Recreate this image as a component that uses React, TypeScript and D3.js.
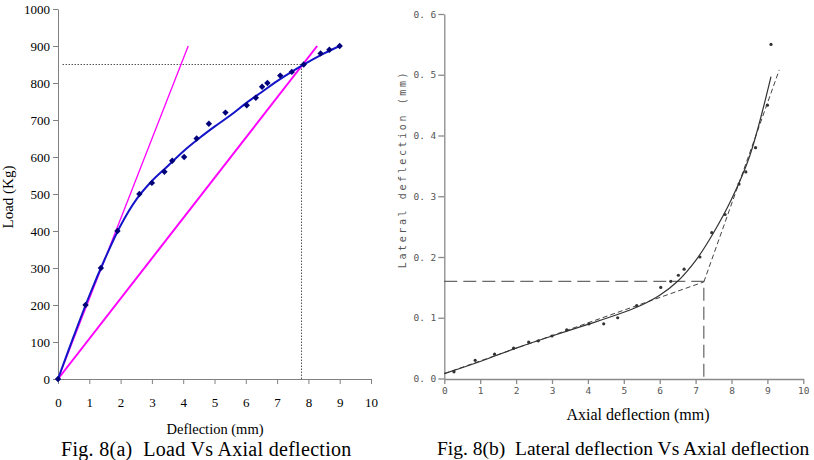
import React, { useEffect, useRef } from "react";
import * as d3 from "d3";

// Fig. 8(a) – measured load vs axial deflection
const loadDefl = [0, 0.88, 1.37, 1.9, 2.6, 3.0, 3.4, 3.65, 4.03, 4.43, 4.82, 5.35, 6.03, 6.32, 6.52, 6.69, 7.1, 7.47, 7.85, 8.39, 8.67, 9.0];
const loadKg = [0, 200, 300, 400, 500, 530, 560, 590, 600, 650, 690, 720, 740, 760, 790, 800, 820, 830, 850, 880, 890, 900];
// fitted trend line (blue)
const trendDefl = [0, 0.5, 1, 1.5, 2, 2.5, 3, 3.5, 4, 4.5, 5, 5.5, 6, 6.5, 7, 7.5, 8, 8.5, 9];
const trendLoad = [0, 115, 225, 325, 415, 485, 535, 575, 615, 650, 682, 712, 745, 775, 805, 832, 857, 880, 900];
// initial tangent and offset line (magenta)
const tangentDefl = [0, 4.16];
const tangentLoad = [0, 900];
const offsetDefl = [0, 8.28];
const offsetLoad = [0, 900];
const yieldLoad = 850;
const yieldDefl = 7.78;
const loadTicks = [0, 100, 200, 300, 400, 500, 600, 700, 800, 900, 1000];
const deflTicks = [0, 1, 2, 3, 4, 5, 6, 7, 8, 9, 10];

// Fig. 8(b) – lateral vs axial deflection
const axialPts = [0.27, 0.86, 1.4, 1.93, 2.35, 2.62, 3.0, 3.41, 4.03, 4.44, 4.83, 5.36, 6.03, 6.31, 6.52, 6.68, 7.12, 7.45, 7.82, 8.21, 8.4, 8.67, 9.0, 9.1];
const lateralPts = [0.011, 0.03, 0.04, 0.05, 0.06, 0.062, 0.07, 0.08, 0.09, 0.09, 0.1, 0.12, 0.15, 0.16, 0.17, 0.18, 0.2, 0.24, 0.27, 0.32, 0.34, 0.38, 0.45, 0.55];
const curveAxial = [0, 1, 2, 3, 4, 5, 5.5, 6, 6.5, 7, 7.5, 8, 8.5, 9.1];
const curveLateral = [0.008, 0.028, 0.05, 0.07, 0.089, 0.109, 0.121, 0.137, 0.16, 0.194, 0.24, 0.295, 0.365, 0.497];
const lowLineAxial = [0, 7.23];
const lowLineLateral = [0.008, 0.159];
const highLineAxial = [7.23, 9.33];
const highLineLateral = [0.159, 0.508];
const kneeAxial = 7.23;
const kneeLateral = 0.16;
const latTicks = [0, 0.1, 0.2, 0.3, 0.4, 0.5, 0.6];

const zip = (xs: number[], ys: number[]) => xs.map((x, i) => [x, ys[i]] as [number, number]);

export default function App() {
  const ref = useRef<SVGSVGElement>(null);

  useEffect(() => {
    const svg = d3.select(ref.current);
    svg.selectAll("*").remove();
    const serif = "'Liberation Serif', 'Times New Roman', serif";
    const mono = "'DejaVu Sans Mono', monospace";

    // ---------- left chart ----------
    const x = d3.scaleLinear().domain([0, 10]).range([58, 371]);
    const y = d3.scaleLinear().domain([0, 1000]).range([379, 9]);
    const gA = svg.append("g");

    const yAx = gA.append("g").attr("transform", "translate(58,0)")
      .call(d3.axisLeft(y).tickValues(loadTicks).tickFormat(d3.format("d")).tickSize(5).tickSizeOuter(0).tickPadding(3));
    const xAx = gA.append("g").attr("transform", "translate(0,379)")
      .call(d3.axisBottom(x).tickValues(deflTicks).tickFormat(d3.format("d")).tickSize(5).tickSizeOuter(0).tickPadding(14));
    [yAx, xAx].forEach((a) => {
      a.style("font-family", serif).style("font-size", "13px");
      a.selectAll("path, line").attr("stroke", "#808080");
      a.selectAll("text").style("font-family", serif).style("font-size", "13px").attr("fill", "#000");
    });

    const line = d3.line<[number, number]>().x((d) => x(d[0])).y((d) => y(d[1]));

    gA.append("path").attr("d", line([[0.15, yieldLoad], [yieldDefl, yieldLoad], [yieldDefl, 0]]))
      .attr("fill", "none").attr("stroke", "#000").attr("stroke-width", 1).attr("stroke-dasharray", "1,2");
    gA.append("path").attr("d", line(zip(tangentDefl, tangentLoad)))
      .attr("fill", "none").attr("stroke", "#f0f").attr("stroke-width", 1.3);
    gA.append("path").attr("d", line(zip(offsetDefl, offsetLoad)))
      .attr("fill", "none").attr("stroke", "#f0f").attr("stroke-width", 2);
    gA.append("path").attr("d", line.curve(d3.curveCatmullRom)(zip(trendDefl, trendLoad)))
      .attr("fill", "none").attr("stroke", "#1414c8").attr("stroke-width", 2);
    gA.append("g").selectAll("path").data(zip(loadDefl, loadKg)).join("path")
      .attr("transform", (d) => `translate(${x(d[0])},${y(d[1])})`)
      .attr("d", d3.symbol(d3.symbolDiamond2, 26)())
      .attr("fill", "#00007a");

    gA.append("text").attr("x", 215).attr("y", 434).attr("text-anchor", "middle")
      .style("font-family", serif).style("font-size", "14.5px").text("Deflection (mm)");
    gA.append("text").attr("transform", "translate(13,197) rotate(-90)").attr("text-anchor", "middle")
      .style("font-family", serif).style("font-size", "15px").text("Load (Kg)");
    gA.append("text").attr("x", 61).attr("y", 456)
      .style("font-family", serif).style("font-size", "20px").style("letter-spacing", "0.3px").style("white-space", "pre")
      .text("Fig. 8(a)  Load Vs Axial deflection");

    // ---------- right chart ----------
    const x2 = d3.scaleLinear().domain([0, 10]).range([444.3, 803.3]);
    const y2 = d3.scaleLinear().domain([0, 0.6]).range([378.5, 14]);
    const gB = svg.append("g");
    const fmt = (v: d3.NumberValue) => d3.format(".1f")(v as number).replace(".", ". ");

    const yAx2 = gB.append("g").attr("transform", "translate(444.3,0)")
      .call(d3.axisLeft(y2).tickValues(latTicks).tickFormat(fmt).tickSize(6).tickSizeOuter(0).tickPadding(2));
    const xAx2 = gB.append("g").attr("transform", "translate(0,379)")
      .call(d3.axisBottom(x2).tickValues(deflTicks).tickFormat(d3.format("d")).tickSize(5).tickSizeOuter(0).tickPadding(3));
    [yAx2, xAx2].forEach((a) => {
      a.selectAll("path, line").attr("stroke", "#8a8a8a").attr("stroke-width", 1.3);
      a.selectAll("text").style("font-family", mono).style("font-size", "9.5px").style("white-space", "pre").attr("fill", "#555");
    });

    const line2 = d3.line<[number, number]>().x((d) => x2(d[0])).y((d) => y2(d[1]));
    gB.append("path").attr("d", line2([[0, kneeLateral], [kneeAxial, kneeLateral], [kneeAxial, 0]]))
      .attr("fill", "none").attr("stroke", "#444").attr("stroke-width", 1).attr("stroke-dasharray", "13,6");
    gB.append("path").attr("d", line2(zip(lowLineAxial, lowLineLateral)))
      .attr("fill", "none").attr("stroke", "#444").attr("stroke-width", 1).attr("stroke-dasharray", "5,3");
    gB.append("path").attr("d", line2(zip(highLineAxial, highLineLateral)))
      .attr("fill", "none").attr("stroke", "#444").attr("stroke-width", 1).attr("stroke-dasharray", "5,3");
    gB.append("path").attr("d", line2.curve(d3.curveCatmullRom)(zip(curveAxial, curveLateral)))
      .attr("fill", "none").attr("stroke", "#333").attr("stroke-width", 1.2);
    gB.append("g").selectAll("circle").data(zip(axialPts, lateralPts)).join("circle")
      .attr("cx", (d) => x2(d[0])).attr("cy", (d) => y2(d[1])).attr("r", 1.6).attr("fill", "#333");

    gB.append("text").attr("transform", "translate(406,169) rotate(-90)").attr("text-anchor", "middle")
      .style("font-family", mono).style("font-size", "10px").style("letter-spacing", "2.6px").style("white-space", "pre")
      .attr("fill", "#555").text("Lateral deflection (mm)");
    gB.append("text").attr("x", 638).attr("y", 420).attr("text-anchor", "middle")
      .style("font-family", serif).style("font-size", "16px").text("Axial deflection (mm)");
    gB.append("text").attr("x", 437).attr("y", 455)
      .style("font-family", serif).style("font-size", "19.5px").style("white-space", "pre")
      .text("Fig. 8(b)  Lateral deflection Vs Axial deflection");
  }, []);

  return (
    <div style={{ position: "absolute", left: 0, top: 0 }}>
      <svg ref={ref} width={814} height={460} style={{ display: "block", background: "#fff" }} />
    </div>
  );
}
